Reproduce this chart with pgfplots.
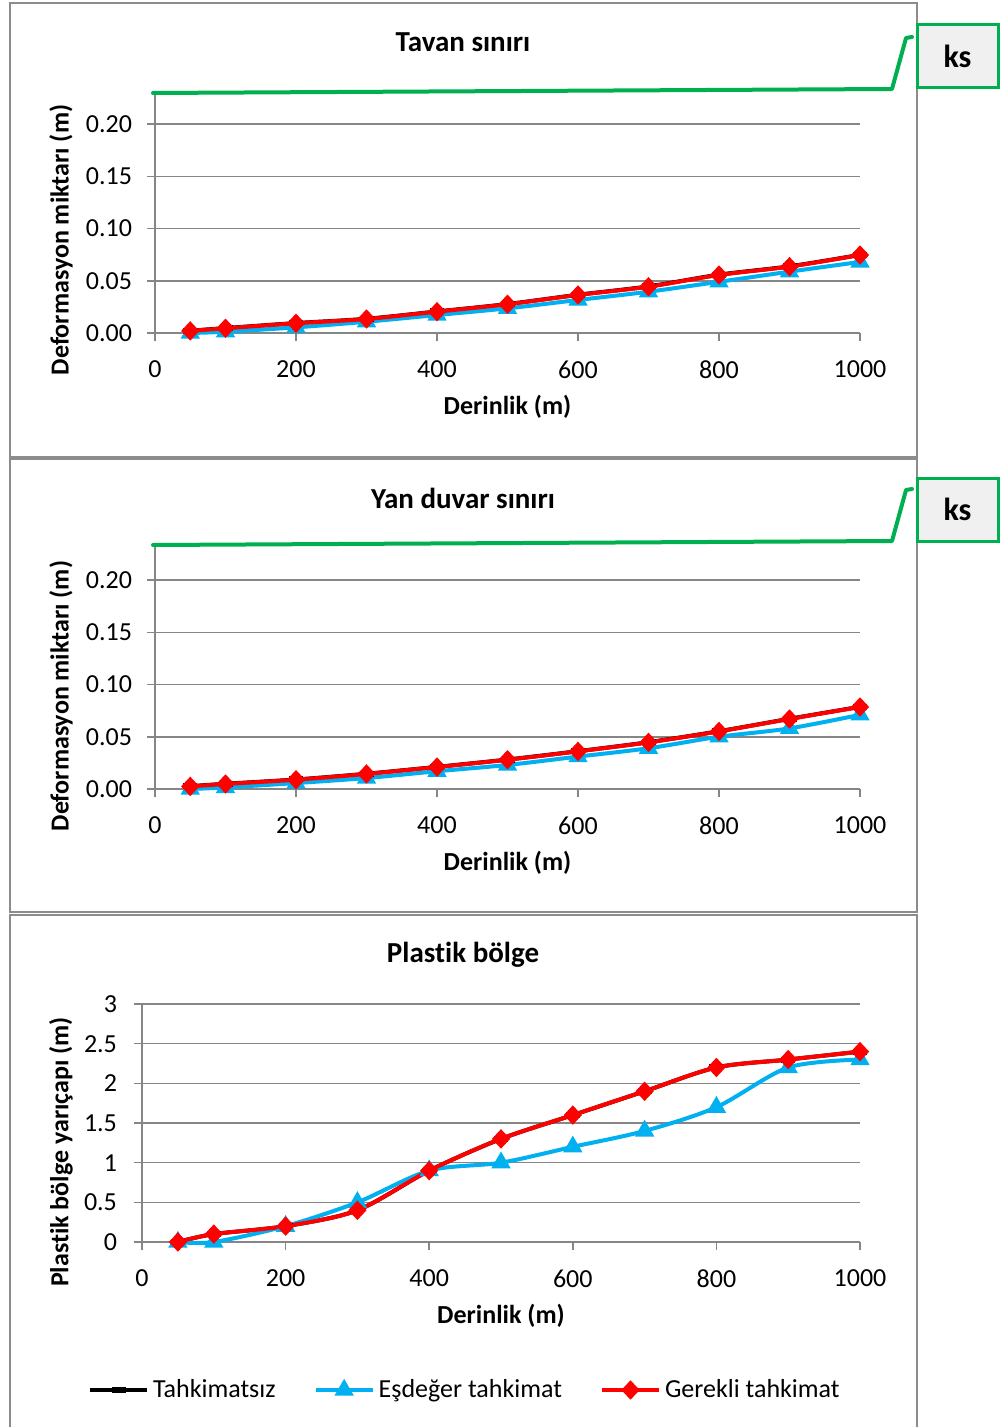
\documentclass[border=0pt]{standalone}
\usepackage{pgfplots}
\pgfplotsset{compat=1.18}
\usepackage{fontspec}
\setmainfont{Carlito}[Ligatures=NoCommon]
\definecolor{exgreen}{HTML}{00B050}
\definecolor{exblue}{HTML}{00B0F0}
\definecolor{exred}{HTML}{FF0000}
\definecolor{gridgray}{HTML}{868686}
\definecolor{framegray}{HTML}{8C8C8C}
\definecolor{boxfill}{HTML}{F0F0F0}
\newcommand{\tickfont}{\fontsize{13}{15}\selectfont}
\newcommand{\labfont}{\bfseries\fontsize{13}{15}\selectfont}
\newcommand{\titfont}{\bfseries\fontsize{14.5}{17}\selectfont}
\pgfplotsset{
  panel/.style={
    scale only axis,
    anchor=south west,
    xmin=0, xmax=1000, ymin=0,
    axis x line*=bottom, axis y line*=left,
    axis line style={gridgray, line width=0.75pt, -},
    major tick style={gridgray, line width=0.75pt},
    major tick length=4pt,
    tick align=outside,
    xtick={0,200,400,600,800,1000},
    ymajorgrids,
    grid style={gridgray, line width=0.75pt},
    tick label style={font=\tickfont},
    xticklabel style={yshift=-6.5pt},
    /pgf/number format/assume math mode=true,
    /pgf/number format/set thousands separator={},
    scaled ticks=false,
    xlabel={Derinlik (m)},
    clip=false,
  },
  s1/.style={black, line width=2pt, smooth, mark=-, mark options={line width=3pt, mark size=3.5pt, solid}},
  s2/.style={exblue, line width=2pt, smooth, mark=triangle*, mark options={mark size=3.6pt, solid}},
  s3/.style={exred, line width=2pt, smooth, mark=diamond*, mark options={mark size=3.4pt, xscale=1.25, solid}},
  legend image code/.code={\draw[mark repeat=2,mark phase=2,#1] plot coordinates {(0pt,0pt) (14.25pt,0pt) (28.5pt,0pt)};},
}
\begin{document}
\begin{tikzpicture}
\useasboundingbox (0pt,0pt) rectangle (500pt,-713.5pt);
\fill[white] (0pt,0pt) rectangle (500pt,-713.5pt);
% frames
\draw[framegray, line width=0.8pt] (5pt,-1.5pt) rectangle (458.5pt,-228.5pt);
\draw[framegray, line width=0.8pt] (5pt,-229.5pt) rectangle (458.5pt,-456pt);
\draw[framegray, line width=0.8pt] (5pt,-720pt) -- (5pt,-457.5pt) -- (458.5pt,-457.5pt) -- (458.5pt,-720pt);

% Panel 1
\begin{axis}[panel,
  at={(77.5pt,-166.5pt)}, width=352.5pt, height=120pt,
  ymax=0.2297,
  ytick={0,0.05,0.1,0.15,0.2},
  yticklabel style={xshift=-4pt, /pgf/number format/fixed, /pgf/number format/fixed zerofill, /pgf/number format/precision=2},
  ylabel={Deformasyon miktarı (m)},
  every axis y label/.style={at={(rel axis cs:-0.1333,0.3875)}, rotate=90, anchor=center, font=\labfont},
  every axis x label/.style={at={(rel axis cs:0.5,-0.3083)}, anchor=center, font=\labfont},
]
\addplot[s1] coordinates {(50,0.0022) (100,0.0047) (200,0.0095) (300,0.0136) (400,0.0206) (500,0.0277) (600,0.0366) (700,0.0446) (800,0.0558) (900,0.0638) (1000,0.0748)};
\addplot[s2] coordinates {(50,0.0) (100,0.0012) (200,0.0054) (300,0.0108) (400,0.0172) (500,0.0236) (600,0.0316) (700,0.0395) (800,0.049) (900,0.0587) (1000,0.068)};
\addplot[s3] coordinates {(50,0.002) (100,0.0045) (200,0.0093) (300,0.0134) (400,0.0204) (500,0.0275) (600,0.0364) (700,0.0443) (800,0.0555) (900,0.0635) (1000,0.0746)};
\end{axis}

% Panel 2
\begin{axis}[panel,
  at={(77.5pt,-394.5pt)}, width=352.5pt, height=122pt,
  ymax=0.2335,
  ytick={0,0.05,0.1,0.15,0.2},
  yticklabel style={xshift=-4pt, /pgf/number format/fixed, /pgf/number format/fixed zerofill, /pgf/number format/precision=2},
  ylabel={Deformasyon miktarı (m)},
  every axis y label/.style={at={(rel axis cs:-0.1333,0.381)}, rotate=90, anchor=center, font=\labfont},
  every axis x label/.style={at={(rel axis cs:0.5,-0.3033)}, anchor=center, font=\labfont},
]
\addplot[s1] coordinates {(50,0.0027) (100,0.005) (200,0.0091) (300,0.0146) (400,0.0212) (500,0.0282) (600,0.0362) (700,0.0448) (800,0.0553) (900,0.0672) (1000,0.0787)};
\addplot[s2] coordinates {(50,0.0) (100,0.0015) (200,0.0057) (300,0.0105) (400,0.017) (500,0.023) (600,0.031) (700,0.039) (800,0.050) (900,0.058) (1000,0.071)};
\addplot[s3] coordinates {(50,0.0025) (100,0.0048) (200,0.0089) (300,0.0144) (400,0.021) (500,0.028) (600,0.036) (700,0.0446) (800,0.0551) (900,0.067) (1000,0.0785)};
\end{axis}

% Panel 3
\begin{axis}[panel,
  at={(71pt,-621pt)}, width=359pt, height=119pt,
  ymax=3,
  ytick={0,0.5,1,1.5,2,2.5,3},
  yticklabel style={xshift=-5pt},
  ylabel={Plastik bölge yarıçapı (m)},
  every axis y label/.style={at={(rel axis cs:-0.1128,0.378)}, rotate=90, anchor=center, font=\labfont},
  every axis x label/.style={at={(rel axis cs:0.5,-0.3109)}, anchor=center, font=\labfont},
  legend columns=3,
  legend style={at={(rel axis cs:0.451,-0.6218)}, anchor=center, draw=none, fill=none,
    font=\tickfont, /tikz/every even column/.append style={column sep=17pt}},
]
\addplot[s1] coordinates {(50,0) (100,0.1) (200,0.2) (300,0.4) (400,0.9) (500,1.3) (600,1.6) (700,1.9) (800,2.2) (900,2.3) (1000,2.4)};
\addlegendentry{Tahkimatsız}
\addplot[s2] coordinates {(50,0) (100,0) (200,0.2) (300,0.5) (400,0.9) (500,1.0) (600,1.2) (700,1.4) (800,1.7) (900,2.2) (1000,2.3)};
\addlegendentry{Eşdeğer tahkimat}
\addplot[s3] coordinates {(50,0) (100,0.1) (200,0.2) (300,0.4) (400,0.9) (500,1.3) (600,1.6) (700,1.9) (800,2.2) (900,2.3) (1000,2.4)};
\addlegendentry{Gerekli tahkimat}
\end{axis}

% green break lines and ks boxes
\draw[exgreen, line width=2pt, line join=round, line cap=round] (76.5pt,-46.5pt) -- (446pt,-44.5pt) -- (453pt,-19pt) -- (456pt,-18.5pt);
\draw[exgreen, line width=1.5pt, fill=boxfill] (458.5pt,-12.5pt) rectangle (499pt,-44pt);
\node[font=\bfseries\fontsize{16}{19}\selectfont] at (478.75pt,-28.25pt) {ks};

\draw[exgreen, line width=2pt, line join=round, line cap=round] (76.5pt,-272.5pt) -- (446pt,-270.5pt) -- (453pt,-245pt) -- (456pt,-244.5pt);
\draw[exgreen, line width=1.5pt, fill=boxfill] (458.5pt,-239pt) rectangle (499pt,-270.5pt);
\node[font=\bfseries\fontsize{16}{19}\selectfont] at (478.75pt,-254.75pt) {ks};

% titles
\node[font=\titfont] at (231.5pt,-21pt) {Tavan sınırı};
\node[font=\titfont] at (231.5pt,-249pt) {Yan duvar sınırı};
\node[font=\titfont] at (231.5pt,-477.5pt) {Plastik bölge};
\end{tikzpicture}
\end{document}
